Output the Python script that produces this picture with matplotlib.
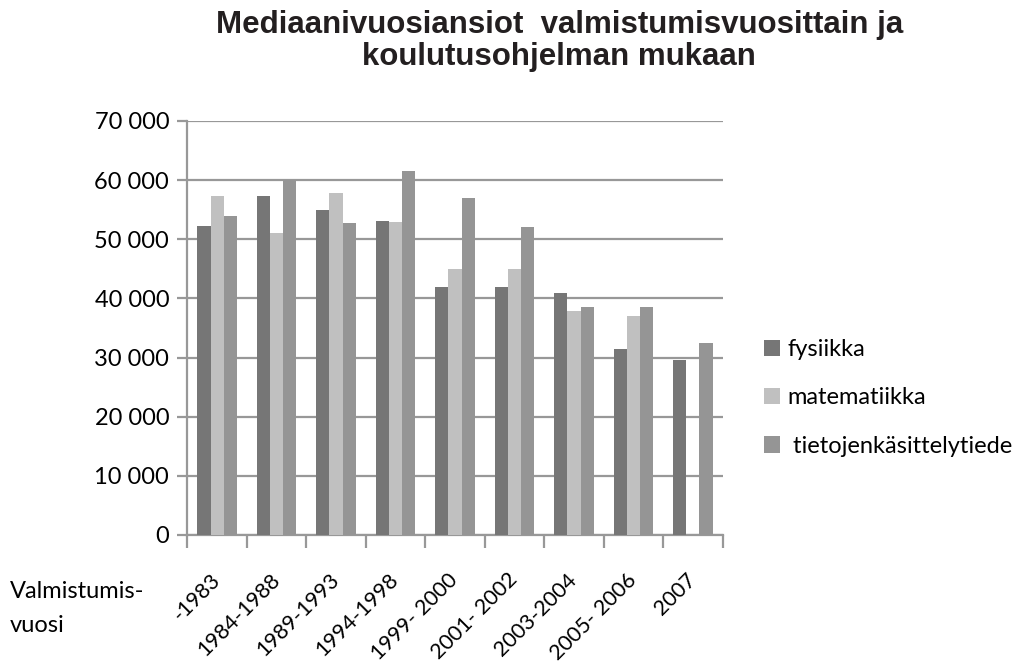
import numpy as np
import matplotlib.pyplot as plt
import matplotlib.transforms as mtransforms

# Data
vuodet = ['-1983', '1984-1988', '1989-1993', '1994-1998', '1999- 2000',
          '2001- 2002', '2003-2004', '2005- 2006', '2007']
fysiikka = [52200, 57300, 54900, 53100, 42000, 42000, 40900, 31500, 29600]
matematiikka = [57300, 51100, 57900, 53000, 45000, 45000, 37900, 37000, np.nan]
tietojenkasittely = [53900, 60000, 52800, 61500, 57000, 52000, 38600, 38500, 32500]

sarjat = ['fysiikka', 'matematiikka', ' tietojenkäsittelytiede']
varit = ['#767676', '#c0c0c0', '#959595']
grid_col = '#989898'

plt.rcParams['font.family'] = ['Lato', 'DejaVu Sans']

fig = plt.figure(figsize=(10.13, 6.71), dpi=100)
ax = fig.add_axes([0.1849, 0.2027, 0.7134 - 0.1849, 0.8197 - 0.2027])

x = np.arange(len(vuodet))
w = 0.22
for i, (vals, nimi, vari) in enumerate(zip([fysiikka, matematiikka, tietojenkasittely], sarjat, varit)):
    ax.bar(x + (i - 1) * w, vals, width=w, color=vari, label=nimi, zorder=3)

ax.set_xlim(-0.5, len(vuodet) - 0.5)
ax.set_ylim(0, 70000)
ax.set_yticks(np.arange(0, 70001, 10000))
ax.set_yticklabels([f'{v:,}'.replace(',', ' ') for v in range(0, 70001, 10000)])
ax.yaxis.grid(True, color=grid_col, linewidth=1.6, zorder=0)

# category boundary ticks on x axis, labels at centres
ax.set_xticks(np.arange(-0.5, len(vuodet)), minor=False)
ax.set_xticklabels([])
ax.set_xticks(x, minor=True)
ax.set_xticklabels(vuodet, minor=True, rotation=45, ha='right', va='center',
                   rotation_mode='anchor', fontsize=15.5)
offset = mtransforms.ScaledTranslation(4 / 100, 0, fig.dpi_scale_trans)
for lbl in ax.get_xticklabels(minor=True):
    lbl.set_transform(lbl.get_transform() + offset)
ax.tick_params(axis='x', which='minor', length=0, pad=30)
ax.tick_params(axis='x', which='major', length=9, width=1.6, color=grid_col)
ax.tick_params(axis='y', length=7, width=1.6, color=grid_col, labelsize=17, pad=6)

for s in ['top', 'right']:
    ax.spines[s].set_visible(False)
for s in ['left', 'bottom']:
    ax.spines[s].set_color(grid_col)
    ax.spines[s].set_linewidth(1.6)

fig.text(0.552, 1 - 33 / 671, 'Mediaanivuosiansiot  valmistumisvuosittain ja',
         ha='center', va='baseline', fontsize=22.5, fontweight='bold',
         family='Liberation Sans', color='#231f20')
fig.text(0.552, 1 - 65 / 671, 'koulutusohjelman mukaan',
         ha='center', va='baseline', fontsize=22.5, fontweight='bold',
         family='Liberation Sans', color='#231f20')

fig.text(0.010, 0.093, 'Valmistumis-\nvuosi', ha='left', va='center', fontsize=17,
         linespacing=1.8)

ax.legend(loc='center left', bbox_to_anchor=(0.733, 0.407),
          bbox_transform=fig.transFigure, frameon=False, fontsize=17,
          handlelength=0.7, handleheight=0.7, handletextpad=0.3,
          labelspacing=1.15)

plt.savefig('out.png', dpi=100)
